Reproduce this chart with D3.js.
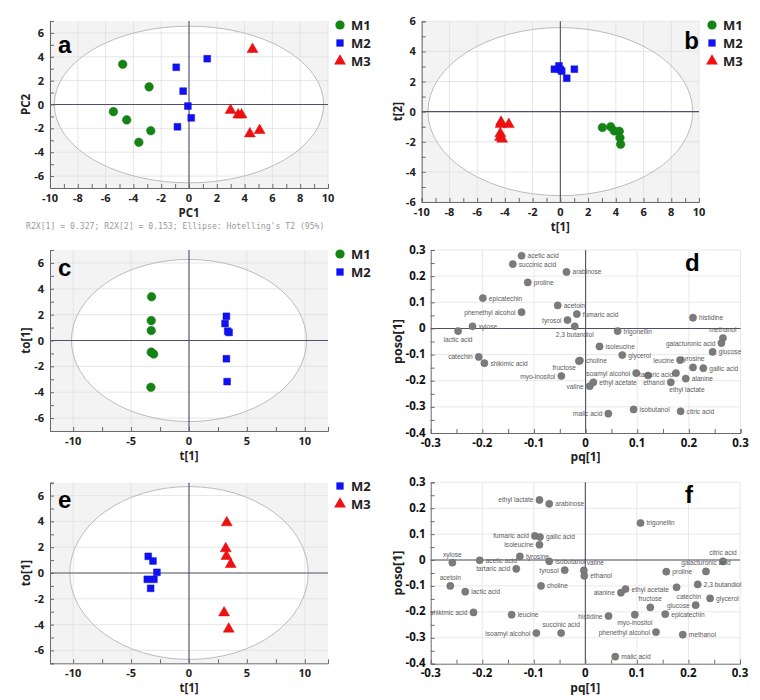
<!DOCTYPE html>
<html>
<head>
<meta charset="utf-8">
<script src="https://cdn.jsdelivr.net/npm/d3@7"></script>
<style>
  body { margin: 0; background: #fff; }
  text { font-family: "Open Sans", "DejaVu Sans", sans-serif; }
</style>
</head>
<body>
<div id="chart"></div>
<script>
// ---- score plot data: [t1, t2] per sample ----
var aM1 = [[-4.77, 3.37], [-2.87, 1.48], [-5.44, -0.6], [-4.48, -1.29], [-2.75, -2.2], [-3.61, -3.17]];
var aM2 = [[-0.92, 3.12], [1.31, 3.84], [-0.42, 1.12], [-0.08, -0.13], [0.16, -1.12], [-0.83, -1.87]];
var aM3 = [[4.57, 4.62], [2.99, -0.48], [3.54, -0.87], [3.78, -0.87], [4.38, -2.45], [5.08, -2.17]];

var bM1 = [[3.03, -1.05], [3.63, -1.0], [3.89, -1.28], [4.25, -1.3], [4.3, -1.73], [4.35, -2.17]];
var bM2 = [[-0.43, 2.82], [-0.1, 3.04], [0.0, 2.8], [0.1, 2.69], [0.46, 2.22], [1.01, 2.82]];
var bM3 = [[-4.28, -0.7], [-4.3, -0.85], [-3.72, -0.85], [-4.33, -1.45], [-4.35, -1.7], [-4.2, -1.82]];

var cM1 = [[-3.23, 3.38], [-3.26, 1.54], [-3.26, 0.77], [-3.26, -0.9], [-3.05, -1.05], [-3.29, -3.62]];
var cM2 = [[3.23, 1.87], [3.11, 1.31], [3.34, 0.72], [3.46, 0.62], [3.23, -1.41], [3.29, -3.18]];

var eM2 = [[-3.52, 1.29], [-3.11, 0.93], [-2.77, 0.05], [-3.6, -0.49], [-3.03, -0.49], [-3.31, -1.19]];
var eM3 = [[3.26, 3.9], [3.17, 1.89], [3.23, 1.29], [3.6, 0.67], [3.03, -3.08], [3.43, -4.34]];

// Hotelling's T2 ellipse half-axes [x, y]
var aEllipse = [9.69, 6.57];
var bEllipse = [9.55, 5.58];
var cEllipse = [10.15, 6.27];
var eEllipse = [10.29, 6.7];

var pcaNote = "R2X[1] = 0.327; R2X[2] = 0.153; Ellipse: Hotelling's T2 (95%)";

// ---- loading (S-plot) data ----
var dLoad = [
  ["acetic acid", -0.124, 0.278], ["succinic acid", -0.141, 0.246], ["arabinose", -0.037, 0.216],
  ["proline", -0.112, 0.176], ["epicatechin", -0.199, 0.116], ["phenethyl alcohol", -0.124, 0.062],
  ["acetoin", -0.054, 0.088], ["fumaric acid", -0.017, 0.055], ["tyrosol", -0.035, 0.032],
  ["2,3 butandiol", -0.021, 0.008], ["trigonellin", 0.062, -0.01], ["xylose", -0.219, 0.008],
  ["lactic acid", -0.247, -0.01], ["histidine", 0.208, 0.041], ["methanol", 0.266, -0.037],
  ["galacturonic acid", 0.263, -0.056], ["glucose", 0.246, -0.09], ["isoleucine", 0.027, -0.069],
  ["glycerol", 0.071, -0.102], ["choline", -0.011, -0.123], ["fructose", -0.013, -0.125],
  ["catechin", -0.207, -0.109], ["shikimic acid", -0.196, -0.133], ["myo-inositol", -0.047, -0.182],
  ["leucine", 0.183, -0.121], ["tyrosine", 0.208, -0.149], ["gallic acid", 0.228, -0.152],
  ["isoamyl alcohol", 0.098, -0.171], ["tartaric acid", 0.121, -0.18], ["ethanol", 0.165, -0.206],
  ["alanine", 0.194, -0.192], ["ethyl lactate", 0.175, -0.171], ["ethyl acetate", 0.015, -0.206],
  ["valine", 0.008, -0.221], ["malic acid", 0.044, -0.326], ["isobutanol", 0.093, -0.31],
  ["citric acid", 0.184, -0.317]
];
var fLoad = [
  ["ethyl lactate", -0.089, 0.232], ["arabinose", -0.07, 0.217], ["fumaric acid", -0.098, 0.093],
  ["gallic acid", -0.088, 0.089], ["isoleucine", -0.089, 0.059], ["xylose", -0.258, -0.01],
  ["acetic acid", -0.205, -0.001], ["tyrosine", -0.127, 0.014], ["isobutanol", -0.07, -0.005],
  ["tartaric acid", -0.134, -0.034], ["tyrosol", -0.04, -0.039], ["acetoin", -0.262, -0.1],
  ["lactic acid", -0.233, -0.122], ["choline", -0.086, -0.1], ["trigonellin", 0.107, 0.143],
  ["citric acid", 0.267, -0.005], ["galacturonic acid", 0.234, -0.044], ["valine", -0.003, -0.04],
  ["ethanol", -0.002, -0.061], ["proline", 0.157, -0.045], ["2,3 butandiol", 0.218, -0.094],
  ["catechin", 0.177, -0.105], ["ethyl acetate", 0.078, -0.112], ["alanine", 0.069, -0.126],
  ["glycerol", 0.242, -0.148], ["fructose", 0.126, -0.183], ["glucose", 0.214, -0.174],
  ["epicatechin", 0.155, -0.209], ["myo-inositol", 0.096, -0.211], ["histidine", 0.045, -0.216],
  ["phenethyl alcohol", 0.137, -0.278], ["methanol", 0.189, -0.288], ["malic acid", 0.058, -0.373],
  ["succinic acid", -0.047, -0.282], ["isoamyl alcohol", -0.095, -0.282], ["leucine", -0.143, -0.211],
  ["shikimic acid", -0.217, -0.202]
];

// ticks
var scoreTicks10 = [-10, -8, -6, -4, -2, 0, 2, 4, 6, 8, 10];
var scoreTicks6 = [-6, -4, -2, 0, 2, 4, 6];
var oplsTicksX = [-10, -5, 0, 5, 10];
var loadTicksX = [-0.3, -0.2, -0.1, 0, 0.1, 0.2, 0.3];
var loadTicksY = [-0.4, -0.3, -0.2, -0.1, 0, 0.1, 0.2, 0.3];

// label placement (which side of the dot the name sits)
var dSide = {
  "phenethyl alcohol": "l", "tyrosol": "l", "2,3 butandiol": "b", "lactic acid": "b",
  "methanol": "t", "galacturonic acid": "l", "fructose": "bl", "catechin": "l",
  "myo-inositol": "l", "leucine": "l", "tyrosine": "t", "isoamyl alcohol": "l",
  "tartaric acid": "c", "ethanol": "l", "ethyl lactate": "bb", "valine": "l", "malic acid": "l"
};
var fSide = {
  "ethyl lactate": "l", "fumaric acid": "l", "isoleucine": "l", "xylose": "t", "tartaric acid": "l",
  "tyrosol": "l", "acetoin": "t", "citric acid": "t", "galacturonic acid": "t", "valine": "tr",
  "catechin": "br", "alanine": "l", "fructose": "t", "glucose": "l", "myo-inositol": "b",
  "histidine": "l", "phenethyl alcohol": "l", "succinic acid": "t", "isoamyl alcohol": "l",
  "shikimic acid": "l"
};
var sideOffset = {
  r: [6, 2.5, "start"], l: [-6, 2.5, "end"], t: [0, -6, "middle"], b: [0, 10.5, "middle"],
  bl: [-3, 9, "end"], br: [0, 12, "start"], bb: [11, 18.5, "middle"], tr: [3, -5, "start"],
  c: [-9, 2, "start"]
};

var colors = { M1: "#148414", M2: "#1010f5", M3: "#f01010" };
var shapes = { M1: d3.symbolCircle, M2: d3.symbolSquare, M3: d3.symbolTriangle };
var sizes = { M1: 58, M2: 46, M3: 52 };

var svg = d3.select("#chart").append("svg")
  .attr("width", 760)
  .attr("height", 700);

function minorTicks(dom, step) {
  var out = [];
  for (var v = Math.ceil(dom[0] / step) * step; v <= dom[1] + 1e-9; v += step) out.push(+v.toFixed(4));
  return out;
}

function scorePlot(o) {
  var x = d3.scaleLinear().domain(o.xDom).range([o.x0, o.x1]);
  var y = d3.scaleLinear().domain(o.yDom).range([o.y1, o.y0]);
  var g = svg.append("g");

  g.append("rect")
    .attr("x", o.x0).attr("y", o.y0)
    .attr("width", o.x1 - o.x0).attr("height", o.y1 - o.y0)
    .style("fill", "#f3f3f3");

  g.append("ellipse")
    .attr("cx", x(0)).attr("cy", y(0))
    .attr("rx", x(o.ellipse[0]) - x(0))
    .attr("ry", y(0) - y(o.ellipse[1]))
    .style("fill", "#fff");

  g.selectAll(".gx").data(o.xTicks).enter().append("line")
    .attr("x1", function(d) { return x(d) }).attr("x2", function(d) { return x(d) })
    .attr("y1", o.y0).attr("y2", o.y1)
    .style("stroke", "#e0e0e0").style("stroke-width", 0.8);
  g.selectAll(".gy").data(o.yTicks).enter().append("line")
    .attr("y1", function(d) { return y(d) }).attr("y2", function(d) { return y(d) })
    .attr("x1", o.x0).attr("x2", o.x1)
    .style("stroke", "#e0e0e0").style("stroke-width", 0.8);

  g.append("ellipse")
    .attr("cx", x(0)).attr("cy", y(0))
    .attr("rx", x(o.ellipse[0]) - x(0))
    .attr("ry", y(0) - y(o.ellipse[1]))
    .style("fill", "none").style("stroke", "#b4b4b4").style("stroke-width", 0.9);

  // zero lines
  g.append("line").attr("x1", o.x0).attr("x2", o.x1).attr("y1", y(0)).attr("y2", y(0))
    .style("stroke", o.hZeroColor || "#50506e").style("stroke-width", o.hZeroWidth || 1.1);
  g.append("line").attr("x1", x(0)).attr("x2", x(0)).attr("y1", o.y0).attr("y2", o.y1)
    .style("stroke", "#50506e").style("stroke-width", 1.1);

  // axes (ticks point inward)
  var xAxis = d3.axisTop(x).tickValues(minorTicks(o.xDom, o.xMinor)).tickSize(4).tickFormat("");
  g.append("g").attr("transform", "translate(0," + o.y1 + ")").call(xAxis)
    .call(function(s) { s.selectAll("line,path").style("stroke", "#6a6a6a") });
  var yAxis = d3.axisRight(y).tickValues(minorTicks(o.yDom, 1)).tickSize(4).tickFormat("");
  g.append("g").attr("transform", "translate(" + o.x0 + ",0)").call(yAxis)
    .call(function(s) { s.selectAll("line,path").style("stroke", "#6a6a6a") });

  g.selectAll(".tx").data(o.xTicks).enter().append("text")
    .attr("x", function(d) { return x(d) }).attr("y", o.y1 + 14)
    .attr("text-anchor", "middle")
    .style("font-size", "11px").style("font-weight", 700).style("fill", "#222")
    .text(function(d) { return d });
  g.selectAll(".ty").data(o.yTicks).enter().append("text")
    .attr("x", o.x0 - 6).attr("y", function(d) { return y(d) + 4 })
    .attr("text-anchor", "end")
    .style("font-size", "11px").style("font-weight", 700).style("fill", "#222")
    .text(function(d) { return d });

  g.append("text")
    .attr("x", (o.x0 + o.x1) / 2).attr("y", o.y1 + 29)
    .attr("text-anchor", "middle")
    .style("font-size", "11.5px").style("font-weight", 700).style("fill", "#222")
    .text(o.xTitle);
  g.append("text")
    .attr("transform", "translate(" + (o.x0 - 20) + "," + ((o.y0 + o.y1) / 2) + ") rotate(-90)")
    .attr("text-anchor", "middle")
    .style("font-size", "11.5px").style("font-weight", 700).style("fill", "#222")
    .text(o.yTitle);

  // samples
  o.series.forEach(function(s) {
    g.selectAll(".pt").data(s.data).enter().append("path")
      .attr("d", d3.symbol().type(shapes[s.group]).size(sizes[s.group]))
      .attr("transform", function(d) { return "translate(" + x(d[0]) + "," + y(d[1]) + ")" })
      .style("fill", colors[s.group])
      .style("stroke", d3.color(colors[s.group]).darker(0.3))
      .style("stroke-width", 0.5);
  });

  // legend
  o.series.forEach(function(s, i) {
    g.append("path")
      .attr("d", d3.symbol().type(shapes[s.group]).size(sizes[s.group] * 1.15))
      .attr("transform", "translate(" + o.legX + "," + (o.legY + i * 18) + ")")
      .style("fill", colors[s.group]);
    g.append("text")
      .attr("x", o.legX + 11).attr("y", o.legY + i * 18 + 4.5)
      .style("font-size", "13px").style("font-weight", 700).style("fill", "#222")
      .text(s.group);
  });

  g.append("text")
    .attr("x", o.letterX).attr("y", o.letterY)
    .attr("text-anchor", o.letterAnchor || "start")
    .style("font-family", "'Liberation Sans', Arial, sans-serif")
    .style("font-size", "24px").style("font-weight", 700).style("fill", "#000")
    .text(o.letter);
}

function loadingPlot(o) {
  var x = d3.scaleLinear().domain([-0.3, 0.3]).range([o.x0, o.x1]);
  var y = d3.scaleLinear().domain([-0.4, 0.3]).range([o.y1, o.y0]);
  var g = svg.append("g");

  g.selectAll(".gx").data(loadTicksX.slice(1)).enter().append("line")
    .attr("x1", function(d) { return x(d) }).attr("x2", function(d) { return x(d) })
    .attr("y1", o.y0).attr("y2", o.y1)
    .style("stroke", "#e2e2e2").style("stroke-width", 0.8);
  g.selectAll(".gy").data(loadTicksY.slice(1)).enter().append("line")
    .attr("y1", function(d) { return y(d) }).attr("y2", function(d) { return y(d) })
    .attr("x1", o.x0).attr("x2", o.x1)
    .style("stroke", "#e2e2e2").style("stroke-width", 0.8);

  g.append("line").attr("x1", o.x0).attr("x2", o.x1).attr("y1", y(0)).attr("y2", y(0))
    .style("stroke", "#50506e").style("stroke-width", 1.1);
  g.append("line").attr("x1", x(0)).attr("x2", x(0)).attr("y1", o.y0).attr("y2", o.y1)
    .style("stroke", "#50506e").style("stroke-width", 1.1);

  var xAxis = d3.axisTop(x).tickValues(minorTicks([-0.3, 0.3], 0.05)).tickSize(4).tickFormat("");
  g.append("g").attr("transform", "translate(0," + o.y1 + ")").call(xAxis)
    .call(function(s) { s.selectAll("line,path").style("stroke", "#6a6a6a") });
  var yAxis = d3.axisRight(y).tickValues(minorTicks([-0.4, 0.3], 0.05)).tickSize(4).tickFormat("");
  g.append("g").attr("transform", "translate(" + o.x0 + ",0)").call(yAxis)
    .call(function(s) { s.selectAll("line,path").style("stroke", "#6a6a6a") });

  g.selectAll(".tx").data(loadTicksX).enter().append("text")
    .attr("x", function(d) { return x(d) }).attr("y", o.y1 + 13.5)
    .attr("text-anchor", "middle")
    .style("font-size", "11.5px").style("font-weight", 700).style("fill", "#111")
    .text(function(d) { return d });
  g.selectAll(".ty").data(loadTicksY).enter().append("text")
    .attr("x", o.x0 - 5).attr("y", function(d) { return y(d) + 3.5 })
    .attr("text-anchor", "end")
    .style("font-size", "11.5px").style("font-weight", 700).style("fill", "#111")
    .text(function(d) { return d });

  g.append("text")
    .attr("x", x(0)).attr("y", o.y1 + 28)
    .attr("text-anchor", "middle")
    .style("font-size", "12px").style("font-weight", 700).style("fill", "#222")
    .text("pq[1]");
  g.append("text")
    .attr("transform", "translate(" + (o.x0 - 29) + "," + ((o.y0 + o.y1) / 2) + ") rotate(-90)")
    .attr("text-anchor", "middle")
    .style("font-size", "12.5px").style("font-weight", 700).style("fill", "#222")
    .text("poso[1]");

  g.selectAll(".pt").data(o.data).enter().append("circle")
    .attr("cx", function(d) { return x(d[1]) })
    .attr("cy", function(d) { return y(d[2]) })
    .attr("r", 3.6)
    .style("fill", "#7b7b7b")
    .style("stroke", "#6a6a6a")
    .style("stroke-width", 0.5);

  g.selectAll(".lb").data(o.data).enter().append("text")
    .attr("x", function(d) { return x(d[1]) + sideOffset[o.side[d[0]] || "r"][0] })
    .attr("y", function(d) { return y(d[2]) + sideOffset[o.side[d[0]] || "r"][1] })
    .attr("text-anchor", function(d) { return sideOffset[o.side[d[0]] || "r"][2] })
    .style("font-family", "'Liberation Sans', Arial, sans-serif")
    .style("font-size", "6.6px").style("fill", "#5a5a5a")
    .text(function(d) { return d[0] });

  g.append("text")
    .attr("x", o.letterX).attr("y", o.letterY)
    .style("font-family", "'Liberation Sans', Arial, sans-serif")
    .style("font-size", "24px").style("font-weight", 700).style("fill", "#000")
    .text(o.letter);
}

scorePlot({
  x0: 50, x1: 328, y0: 21, y1: 188, xDom: [-10, 10], yDom: [-7, 7],
  xTicks: scoreTicks10, yTicks: scoreTicks6, xMinor: 1, ellipse: aEllipse,
  xTitle: "PC1", yTitle: "PC2",
  series: [{ group: "M1", data: aM1 }, { group: "M2", data: aM2 }, { group: "M3", data: aM3 }],
  legX: 340, legY: 25, letter: "a", letterX: 58, letterY: 53
});
svg.append("text")
  .attr("x", 26).attr("y", 229)
  .style("font-family", "'DejaVu Sans Mono', monospace")
  .style("font-size", "8.15px").style("fill", "#9a9a9a")
  .text(pcaNote);

scorePlot({
  x0: 421.7, x1: 699, y0: 21.3, y1: 202, xDom: [-10, 10], yDom: [-6, 6],
  xTicks: scoreTicks10, yTicks: scoreTicks6, xMinor: 1, ellipse: bEllipse,
  xTitle: "t[1]", yTitle: "t[2]",
  series: [{ group: "M1", data: bM1 }, { group: "M2", data: bM2 }, { group: "M3", data: bM3 }],
  legX: 712, legY: 25, letter: "b", letterX: 699, letterY: 49, letterAnchor: "end"
});

scorePlot({
  x0: 50, x1: 328, y0: 250, y1: 431, xDom: [-12, 12], yDom: [-7, 7],
  xTicks: oplsTicksX, yTicks: scoreTicks6, xMinor: 2.5, ellipse: cEllipse,
  xTitle: "t[1]", yTitle: "to[1]",
  series: [{ group: "M1", data: cM1 }, { group: "M2", data: cM2 }],
  legX: 340, legY: 254, letter: "c", letterX: 58, letterY: 276
});

scorePlot({
  x0: 50, x1: 328, y0: 482.7, y1: 663.3, xDom: [-12, 12], yDom: [-7, 7],
  xTicks: oplsTicksX, yTicks: scoreTicks6, xMinor: 2.5, ellipse: eEllipse,
  xTitle: "t[1]", yTitle: "to[1]", hZeroColor: "#8a8a96", hZeroWidth: 1.6,
  series: [{ group: "M2", data: eM2 }, { group: "M3", data: eM3 }],
  legX: 340, legY: 486, letter: "e", letterX: 58, letterY: 508
});

loadingPlot({
  x0: 430.7, x1: 740.5, y0: 250, y1: 433, data: dLoad, side: dSide,
  letter: "d", letterX: 685, letterY: 271
});

loadingPlot({
  x0: 430.7, x1: 740, y0: 482.3, y1: 663.7, data: fLoad, side: fSide,
  letter: "f", letterX: 685, letterY: 503
});
</script>
</body>
</html>
